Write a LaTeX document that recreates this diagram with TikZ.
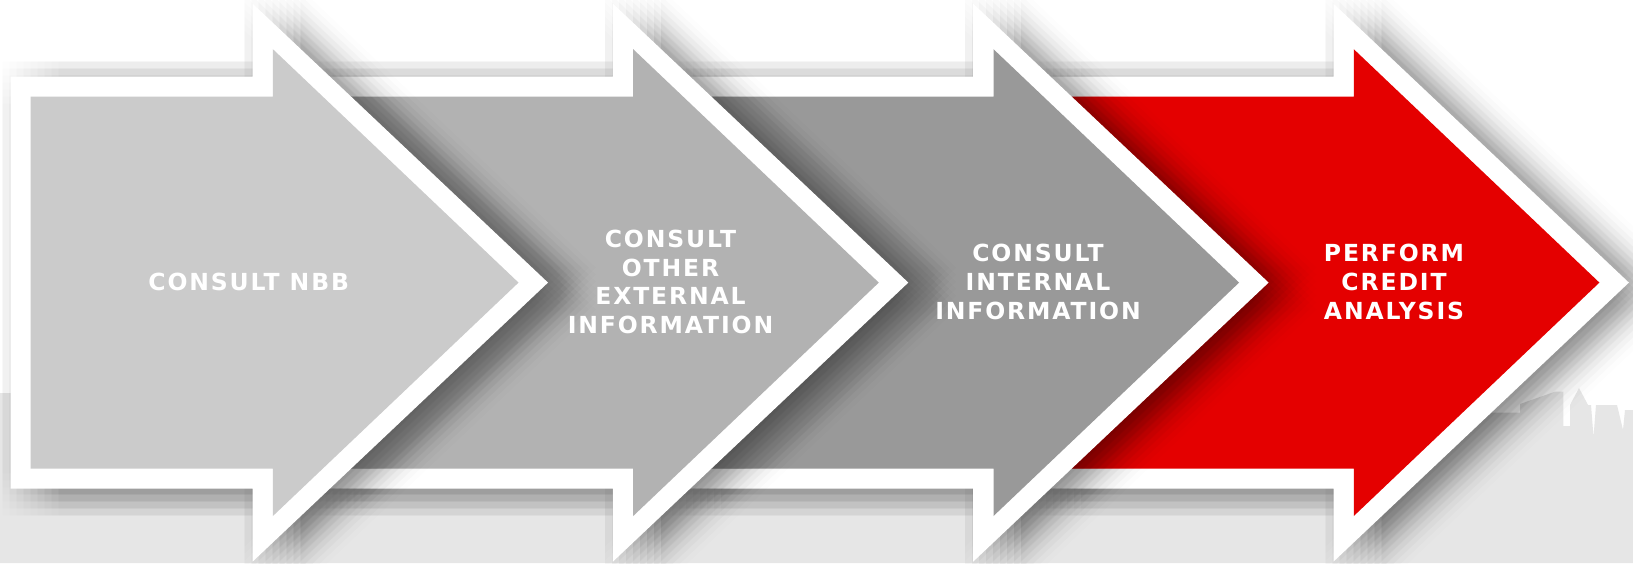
\documentclass[tikz,border=0pt]{standalone}
\usepackage{fontspec}
\newfontfamily\lblfont{DejaVu Sans}[LetterSpace=8]
\definecolor{ga}{HTML}{CBCBCB}
\definecolor{gb}{HTML}{B2B2B2}
\definecolor{gc}{HTML}{999999}
\definecolor{rd}{HTML}{E40000}
\definecolor{bgg}{HTML}{E6E6E6}
\newcommand\myarrow[3]{%
  \foreach \dx in {-28,-21,...,28}{\foreach \dy in {-21,-14,...,21}{%
    \fill[shadowlayer, shift={({\dx+20},{\dy+6})}] (#2,76.5) -- (#1,76.5) -- (#1,3.6) -- ({#1+295.4},282.6) -- (#1,561.6) -- (#1,488.7) -- (#2,488.7) -- cycle;}}
  \fill[white] (#2,76.5) -- (#1,76.5) -- (#1,3.6) -- ({#1+295.4},282.6) -- (#1,561.6) -- (#1,488.7) -- (#2,488.7) -- cycle;
  \fill[#3] ({#2+20},96.5) -- ({#1+20.3},96.5) -- ({#1+20.3},49.2) -- ({#1+265.9},282.6) -- ({#1+20.3},516) -- ({#1+20.3},468.7) -- ({#2+20},468.7) -- cycle;
}
\begin{document}
\begin{tikzpicture}[x=1pt,y=-1pt,
  shadowlayer/.style={black, opacity=0.0062},
  lbl/.style={text=white, align=center, inner sep=0pt, font=\lblfont\bfseries\fontsize{23.5}{28.7}\selectfont}]
\useasboundingbox (0,0) rectangle (1633,563);
\fill[white] (0,0) rectangle (1633,563);
\fill[bgg] (0,393) -- (1496.7,412.7) -- (1520,412.7) -- (1520,404) -- (1555,391.7) -- (1563.3,391.7) -- (1563.3,426) -- (1570,426) -- (1570,405) -- (1579,388) -- (1588,405) -- (1591,405) -- (1593.5,437) -- (1596,405) -- (1617,405) -- (1623,430) -- (1625,410) -- (1633,410) -- (1633,563) -- (0,563) -- cycle;
\myarrow{1333.5}{1033.2}{rd}
\myarrow{973.2}{672.9}{gc}
\myarrow{612.9}{312.6}{gb}
\myarrow{252.6}{10.7}{ga}
\node[lbl] (t1) at (248.7,282) {CONSULT NBB};
\node[lbl] (t2) at (670.5,282) {CONSULT\\OTHER\\EXTERNAL\\INFORMATION};
\node[lbl] (t3) at (1038,282) {CONSULT\\INTERNAL\\INFORMATION};
\node[lbl] (t4) at (1394,282) {PERFORM\\CREDIT\\ANALYSIS};
\end{tikzpicture}
\end{document}
